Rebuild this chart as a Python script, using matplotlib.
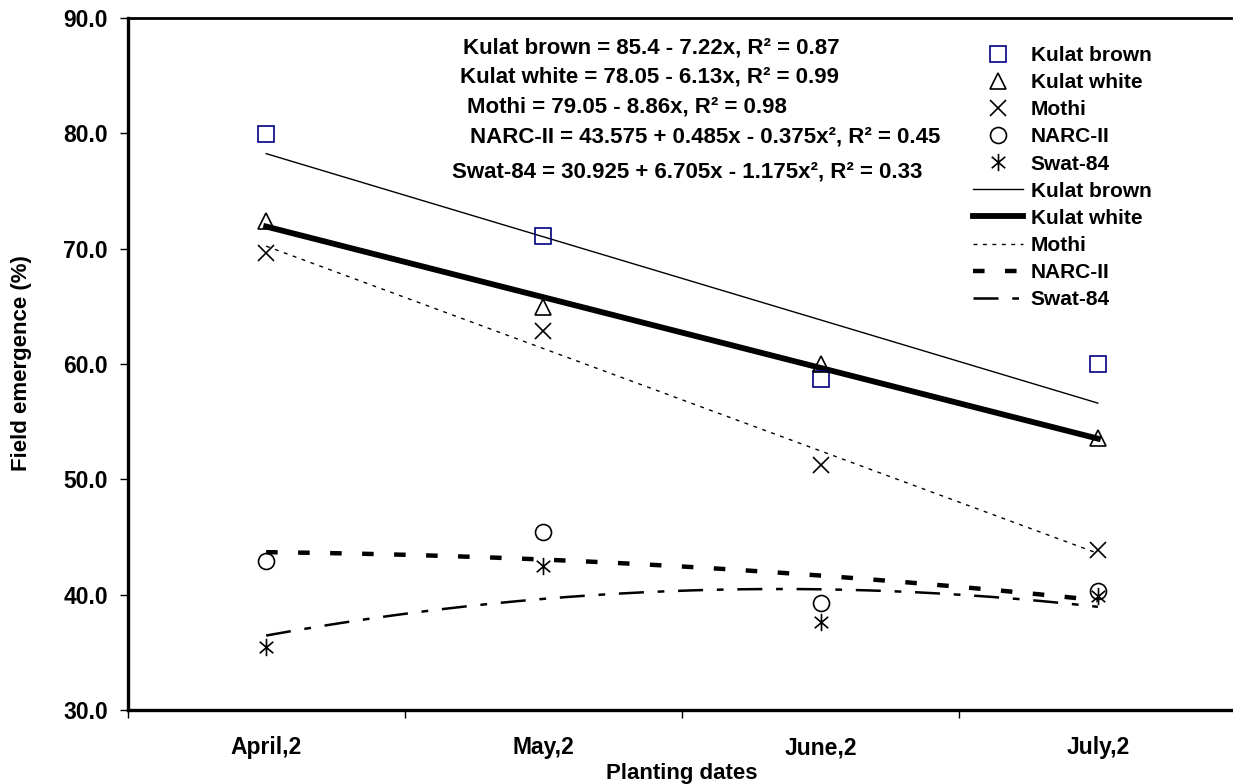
import numpy as np
import matplotlib
matplotlib.use("Agg")
import matplotlib.pyplot as plt
from matplotlib.lines import Line2D
from matplotlib.path import Path

plt.rcParams['font.family'] = ['Liberation Sans', 'DejaVu Sans']
plt.rcParams['font.weight'] = 'bold'

# ---- data ----
categories = ["April,2", "May,2", "June,2", "July,2"]
kulat_brown = [79.9, 71.1, 58.7, 60.0]
kulat_white = [72.4, 64.9, 60.0, 53.6]
mothi = [69.6, 62.9, 51.2, 43.9]
narc_ii = [42.9, 45.4, 39.3, 40.3]
swat_84 = [35.5, 42.5, 37.6, 39.9]
series_names = ["Kulat brown", "Kulat white", "Mothi", "NARC-II", "Swat-84"]
equations = [
    "Kulat brown = 85.4 - 7.22x, R² = 0.87",
    "Kulat white = 78.05 - 6.13x, R² = 0.99",
    "Mothi = 79.05 - 8.86x, R² = 0.98",
    "NARC-II = 43.575 + 0.485x - 0.375x², R² = 0.45",
    "Swat-84 = 30.925 + 6.705x - 1.175x², R² = 0.33",
]
yticks = [30, 40, 50, 60, 70, 80, 90]

W, H = 1233, 784
fig = plt.figure(figsize=(W / 100, H / 100), dpi=100)
ax = fig.add_axes([127.5 / W, 1 - 710 / H, 1109 / W, 692 / H])

xpos = np.arange(len(categories))
xe = xpos + 1  # Excel trendline x

# asterisk marker: vertical line plus X
ast = Path([(0, -1), (0, 1), (-0.78, -0.66), (0.78, 0.66), (-0.78, 0.66), (0.78, -0.66)],
           [Path.MOVETO, Path.LINETO, Path.MOVETO, Path.LINETO, Path.MOVETO, Path.LINETO])

mk = dict(linestyle='none', markerfacecolor='none', markeredgewidth=1.2)
m_styles = [
    dict(marker='s', markersize=11.5, markeredgecolor='#000080'),
    dict(marker='^', markersize=11, markeredgecolor='black'),
    dict(marker='x', markersize=12, markeredgecolor='black'),
    dict(marker='o', markersize=11.5, markeredgecolor='black'),
    dict(marker=ast, markersize=12.5, markeredgecolor='black'),
]
l_styles = [
    dict(color='black', linewidth=1.0, linestyle='-'),
    dict(color='black', linewidth=4.2, linestyle='-'),
    dict(color='black', linewidth=1.0, linestyle=(0, (2.8, 4))),
    dict(color='black', linewidth=3.2, linestyle=(0, (2.6, 4.6))),
    dict(color='black', linewidth=1.8, linestyle=(0, (10, 5.5, 2.7, 5.5))),
]
degrees = [1, 1, 1, 2, 2]
all_series = [kulat_brown, kulat_white, mothi, narc_ii, swat_84]

xs = np.linspace(1, 4, 200)
for vals, deg, ls in zip(all_series, degrees, l_styles):
    coef = np.polyfit(xe, vals, deg)
    ax.plot(xs - 1, np.polyval(coef, xs), **ls, zorder=2)
for vals, ms in zip(all_series, m_styles):
    ax.plot(xpos, vals, **mk, **ms, zorder=3)

ax.set_xlim(-0.5, 3.5)
ax.set_ylim(30, 90)
ax.set_yticks(yticks)
ax.set_yticklabels([f"{v:.1f}" for v in yticks])
ax.set_xticks(xpos)
ax.set_xticklabels(categories)
ax.set_xticks(np.arange(-0.5, 3.0, 1.0), minor=True)
ax.tick_params(axis='x', which='major', length=0, pad=19, labelsize=16.5)
ax.tick_params(axis='x', which='minor', length=6, width=1, direction='out')
ax.tick_params(axis='y', which='major', length=5.5, width=1, direction='out', pad=8.5, labelsize=16.5)
for t in ax.get_xticklabels() + ax.get_yticklabels():
    t.set_fontweight('bold')

for side in ['left', 'bottom']:
    ax.spines[side].set_linewidth(2.4)
ax.spines['top'].set_linewidth(2.0)
ax.spines['right'].set_visible(False)

fig.text(682 / W, 1 - 773 / H, "Planting dates", ha='center', va='center',
         fontsize=16, fontweight='bold')
fig.text(22 / W, 1 - 363 / H, "Field emergence (%)", ha='center', va='center',
         rotation=90, fontsize=16, fontweight='bold')

eq_pos = [(463, 48), (460, 77), (467, 107), (470, 137), (452, 172)]
for (ex, ey), txt in zip(eq_pos, equations):
    fig.text(ex / W, 1 - ey / H, txt, ha='left', va='center', fontsize=16, fontweight='bold')

handles = []
for name, ms in zip(series_names, m_styles):
    handles.append(Line2D([], [], **mk, **ms))
for name, ls in zip(series_names, l_styles):
    handles.append(Line2D([], [], **ls))
labels = series_names + series_names
leg = fig.legend(handles, labels, loc='upper left', bbox_to_anchor=(973 / W, 1 - 46 / H),
                 frameon=False, fontsize=15, handlelength=2.4, handletextpad=0.38,
                 labelspacing=0.39, borderpad=0, borderaxespad=0)
for t in leg.get_texts():
    t.set_fontweight('bold')

fig.savefig("out.png", dpi=100)
